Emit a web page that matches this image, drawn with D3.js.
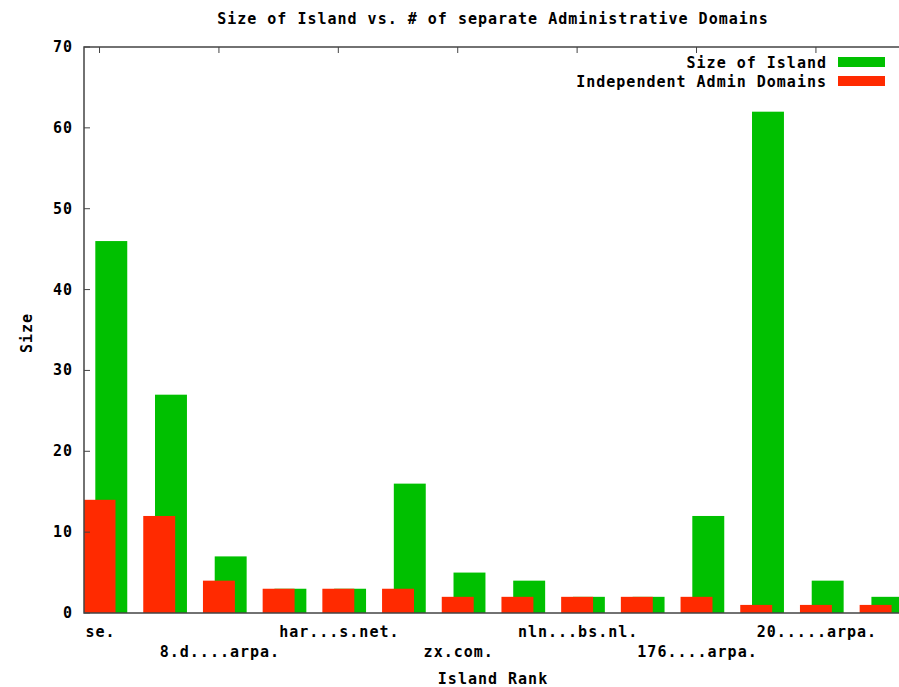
<!DOCTYPE html>
<html>
<head>
<meta charset="utf-8">
<script src="https://cdn.jsdelivr.net/npm/d3@7"></script>
<style>
  body { margin: 0; background: #fff; }
  text { font-family: "DejaVu Sans Mono", monospace; font-weight: bold; font-size: 15px; letter-spacing: 1px; fill: #000; }
</style>
</head>
<body>
<div id="wrapper"></div>
<script>
// island ranks (only every other one gets a label)
const islands = ["se.", "", "8.d....arpa.", "", "har...s.net.", "", "zx.com.", "",
                 "nln...bs.nl.", "", "176....arpa.", "", "20.....arpa.", ""];
const islandSize = [46, 27, 7, 3, 3, 16, 5, 4, 2, 2, 12, 62, 4, 2];
const adminDomains = [14, 12, 4, 3, 3, 3, 2, 2, 2, 2, 2, 1, 1, 1];
const yTicks = [0, 10, 20, 30, 40, 50, 60, 70];

const dimension = {
    width: 899,
    height: 687,
    margin: { top: 47, left: 84, bottom: 74, right: 0 }
};
dimension.boundedHeight = dimension.height - dimension.margin.top - dimension.margin.bottom;

const svg = d3.select("#wrapper").append("svg")
    .attr("width", dimension.width)
    .attr("height", dimension.height);

const step = 59.7;
const scaleX = d3.scaleLinear()
    .domain([-0.26, 13.74])
    .range([dimension.margin.left, dimension.margin.left + step * 14]);
const scaleY = d3.scaleLinear()
    .domain([0, 70])
    .range([dimension.margin.top + dimension.boundedHeight, dimension.margin.top]);

const boxW = 0.535;
const greenShift = 0.197;
const green = "#00c000";
const red = "#ff2a00";

svg.append("clipPath").attr("id", "plot")
    .append("rect")
    .attr("x", dimension.margin.left).attr("y", dimension.margin.top - 1)
    .attr("width", dimension.width - dimension.margin.left)
    .attr("height", dimension.boundedHeight + 1);

const bars = svg.append("g").attr("clip-path", "url(#plot)");

bars.selectAll(".size")
    .data(islandSize)
    .join("rect")
    .attr("class", "size")
    .attr("x", (d, i) => scaleX(i + greenShift - boxW / 2))
    .attr("width", scaleX(boxW) - scaleX(0))
    .attr("y", d => scaleY(d))
    .attr("height", d => scaleY(0) - scaleY(d))
    .attr("fill", green);

bars.selectAll(".admin")
    .data(adminDomains)
    .join("rect")
    .attr("class", "admin")
    .attr("x", (d, i) => scaleX(i - boxW / 2))
    .attr("width", scaleX(boxW) - scaleX(0))
    .attr("y", d => scaleY(d))
    .attr("height", d => scaleY(0) - scaleY(d))
    .attr("fill", red);

// border: left, bottom, top
const axisColor = "#444";
const x0 = dimension.margin.left, yTop = scaleY(70), yBot = scaleY(0);
svg.append("path")
    .attr("d", `M${dimension.width},${yTop}H${x0}V${yBot}H${dimension.width}`)
    .attr("fill", "none")
    .attr("stroke", axisColor)
    .attr("stroke-width", 1.5);

// y ticks + labels
svg.append("g").selectAll("line")
    .data(yTicks)
    .join("line")
    .attr("x1", x0).attr("x2", x0 + 6)
    .attr("y1", d => scaleY(d)).attr("y2", d => scaleY(d))
    .attr("stroke", axisColor);

svg.append("g").selectAll("text")
    .data(yTicks)
    .join("text")
    .attr("x", 73)
    .attr("y", d => scaleY(d) + 5)
    .attr("text-anchor", "end")
    .text(d => d);

// x ticks on top mirror
const labelled = islands.map((d, i) => i).filter(i => islands[i] !== "");
svg.append("g").selectAll("line")
    .data(labelled)
    .join("line")
    .attr("x1", i => scaleX(i)).attr("x2", i => scaleX(i))
    .attr("y1", yTop).attr("y2", yTop + 6)
    .attr("stroke", axisColor);

svg.append("g").selectAll("text")
    .data(labelled)
    .join("text")
    .attr("x", i => scaleX(i) + 1)
    .attr("y", (i, k) => k % 2 === 0 ? 637 : 657)
    .attr("text-anchor", "middle")
    .text(i => islands[i]);

// titles
svg.append("text")
    .attr("x", 493).attr("y", 24)
    .attr("text-anchor", "middle")
    .text("Size of Island vs. # of separate Administrative Domains");

svg.append("text")
    .attr("x", 493).attr("y", 684)
    .attr("text-anchor", "middle")
    .text("Island Rank");

svg.append("text")
    .attr("transform", "translate(32,333) rotate(-90)")
    .attr("text-anchor", "middle")
    .text("Size");

// legend
const legend = [["Size of Island", green], ["Independent Admin Domains", red]];
const lg = svg.append("g").selectAll("g")
    .data(legend)
    .join("g")
    .attr("transform", (d, i) => `translate(0,${68 + i * 19})`);
lg.append("text")
    .attr("x", 827)
    .attr("text-anchor", "end")
    .text(d => d[0]);
lg.append("rect")
    .attr("x", 838).attr("y", -11)
    .attr("width", 47).attr("height", 10)
    .attr("fill", d => d[1]);
</script>
</body>
</html>
